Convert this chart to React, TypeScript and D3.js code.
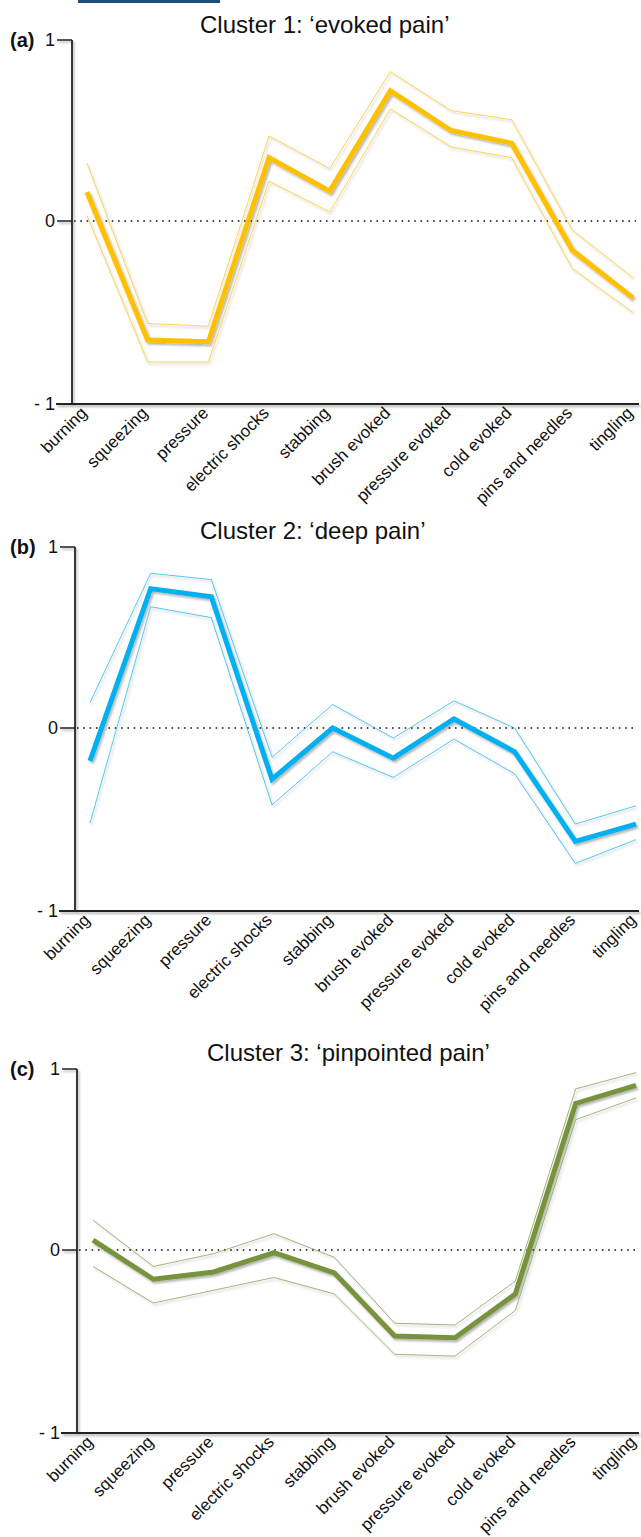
import React from "react";
import * as d3 from "d3";

const categories = [
  "burning",
  "squeezing",
  "pressure",
  "electric shocks",
  "stabbing",
  "brush evoked",
  "pressure evoked",
  "cold evoked",
  "pins and needles",
  "tingling",
];

const c1Mean = [0.16, -0.65, -0.66, 0.35, 0.165, 0.72, 0.5, 0.43, -0.16, -0.42];
const c1Upper = [0.32, -0.56, -0.575, 0.47, 0.29, 0.825, 0.61, 0.56, -0.05, -0.31];
const c1Lower = [0.03, -0.77, -0.77, 0.22, 0.05, 0.62, 0.41, 0.35, -0.26, -0.5];

const c2Mean = [-0.18, 0.77, 0.725, -0.28, 0.0, -0.165, 0.05, -0.13, -0.62, -0.525];
const c2Upper = [0.14, 0.855, 0.82, -0.16, 0.13, -0.055, 0.15, 0.0, -0.525, -0.425];
const c2Lower = [-0.52, 0.67, 0.61, -0.42, -0.13, -0.27, -0.06, -0.25, -0.74, -0.61];

const c3Mean = [0.055, -0.16, -0.12, -0.015, -0.125, -0.47, -0.48, -0.24, 0.81, 0.91];
const c3Upper = [0.165, -0.09, -0.02, 0.09, -0.04, -0.4, -0.41, -0.17, 0.89, 0.98];
const c3Lower = [-0.09, -0.29, -0.22, -0.15, -0.24, -0.57, -0.58, -0.33, 0.72, 0.84];

const yTickValues = [1, 0, -1];
const yTickLabels = ["1", "0", "- 1"];

const panels = [
  {
    id: "a",
    tag: "(a)",
    title: "Cluster 1: \u2018evoked pain\u2019",
    color: "#FFC000",
    thin: "#FFC000",
    mean: c1Mean,
    upper: c1Upper,
    lower: c1Lower,
    top: 40,
    axisX: 72,
    x0: 87,
    x1: 633,
    titleX: 200,
    titleY: 33,
  },
  {
    id: "b",
    tag: "(b)",
    title: "Cluster 2: \u2018deep pain\u2019",
    color: "#00B0F0",
    thin: "#00B0F0",
    mean: c2Mean,
    upper: c2Upper,
    lower: c2Lower,
    top: 547,
    axisX: 75,
    x0: 90,
    x1: 636,
    titleX: 200,
    titleY: 539,
  },
  {
    id: "c",
    tag: "(c)",
    title: "Cluster 3: \u2018pinpointed pain\u2019",
    color: "#77933C",
    thin: "#77933C",
    mean: c3Mean,
    upper: c3Upper,
    lower: c3Lower,
    top: 1069,
    axisX: 77,
    x0: 93,
    x1: 636,
    titleX: 207,
    titleY: 1061,
  },
];

const FONT = "'Liberation Sans', Arial, Helvetica, sans-serif";
const UP_H = 181;
const DOWN_H = 183;
const RIGHT = 639;

function Panel({ p }: { p: (typeof panels)[number] }) {
  const x = d3.scalePoint<string>().domain(categories).range([p.x0, p.x1]);
  const y = d3
    .scaleLinear()
    .domain([-1, 0, 1])
    .range([p.top + UP_H + DOWN_H, p.top + UP_H, p.top]);
  const line = d3
    .line<number>()
    .x((_, i) => x(categories[i]) as number)
    .y((d) => y(d));
  const bottom = y(-1);
  return (
    <g>
      <text x={10} y={p.top + 7} fontFamily={FONT} fontSize={20} fontWeight="bold" fill="#111">
        {p.tag}
      </text>
      <text x={p.titleX} y={p.titleY} fontFamily={FONT} fontSize={24} fill="#111">
        {p.title}
      </text>
      <g filter="url(#shadow)">
        <line x1={p.axisX} x2={p.axisX} y1={y(1)} y2={bottom} stroke="#222" strokeWidth={1.8} />
        <line x1={p.axisX - 16} x2={RIGHT} y1={bottom} y2={bottom} stroke="#222" strokeWidth={1.8} />
        {yTickValues.map((v) => (
          <line key={v} x1={p.axisX - 15} x2={p.axisX} y1={y(v)} y2={y(v)} stroke="#222" strokeWidth={1.5} />
        ))}
      </g>
      {yTickValues.map((v, i) => (
        <text
          key={v}
          x={p.axisX - 17}
          y={y(v)}
          dy="0.35em"
          textAnchor="end"
          fontFamily={FONT}
          fontSize={18}
          fill="#111"
        >
          {yTickLabels[i]}
        </text>
      ))}
      <line
        x1={p.axisX + 2}
        x2={RIGHT - 3}
        y1={y(0)}
        y2={y(0)}
        stroke="#111"
        strokeWidth={1.6}
        strokeDasharray="1.6,4.7"
      />
      <g filter="url(#shadow)">
        <path d={line(p.upper) || ""} fill="none" stroke={p.thin} strokeWidth={0.8} strokeOpacity={0.85} />
        <path d={line(p.lower) || ""} fill="none" stroke={p.thin} strokeWidth={0.8} strokeOpacity={0.85} />
        <path d={line(p.mean) || ""} fill="none" stroke={p.color} strokeWidth={5} strokeLinejoin="miter" />
      </g>
      {categories.map((c) => {
        const cx = x(c) as number;
        return (
          <text
            key={c}
            transform={`translate(${cx + 1},${bottom + 10}) rotate(-45)`}
            textAnchor="end"
            fontFamily={FONT}
            fontSize={17}
            fill="#111"
          >
            {c}
          </text>
        );
      })}
    </g>
  );
}

export default function App() {
  return (
    <svg
      width={641}
      height={1537}
      style={{ position: "absolute", left: 0, top: 0, display: "block", background: "#fff" }}
    >
      <defs>
        <filter id="shadow" x="-10%" y="-10%" width="130%" height="130%">
          <feDropShadow dx={1.5} dy={2} stdDeviation={1.3} floodColor="#000" floodOpacity={0.3} />
        </filter>
      </defs>
      <rect x={0} y={0} width={641} height={1537} fill="#fff" />
      <rect x={78} y={0} width={142} height={3} fill="#1F4E79" />
      {panels.map((p) => (
        <Panel key={p.id} p={p} />
      ))}
    </svg>
  );
}
